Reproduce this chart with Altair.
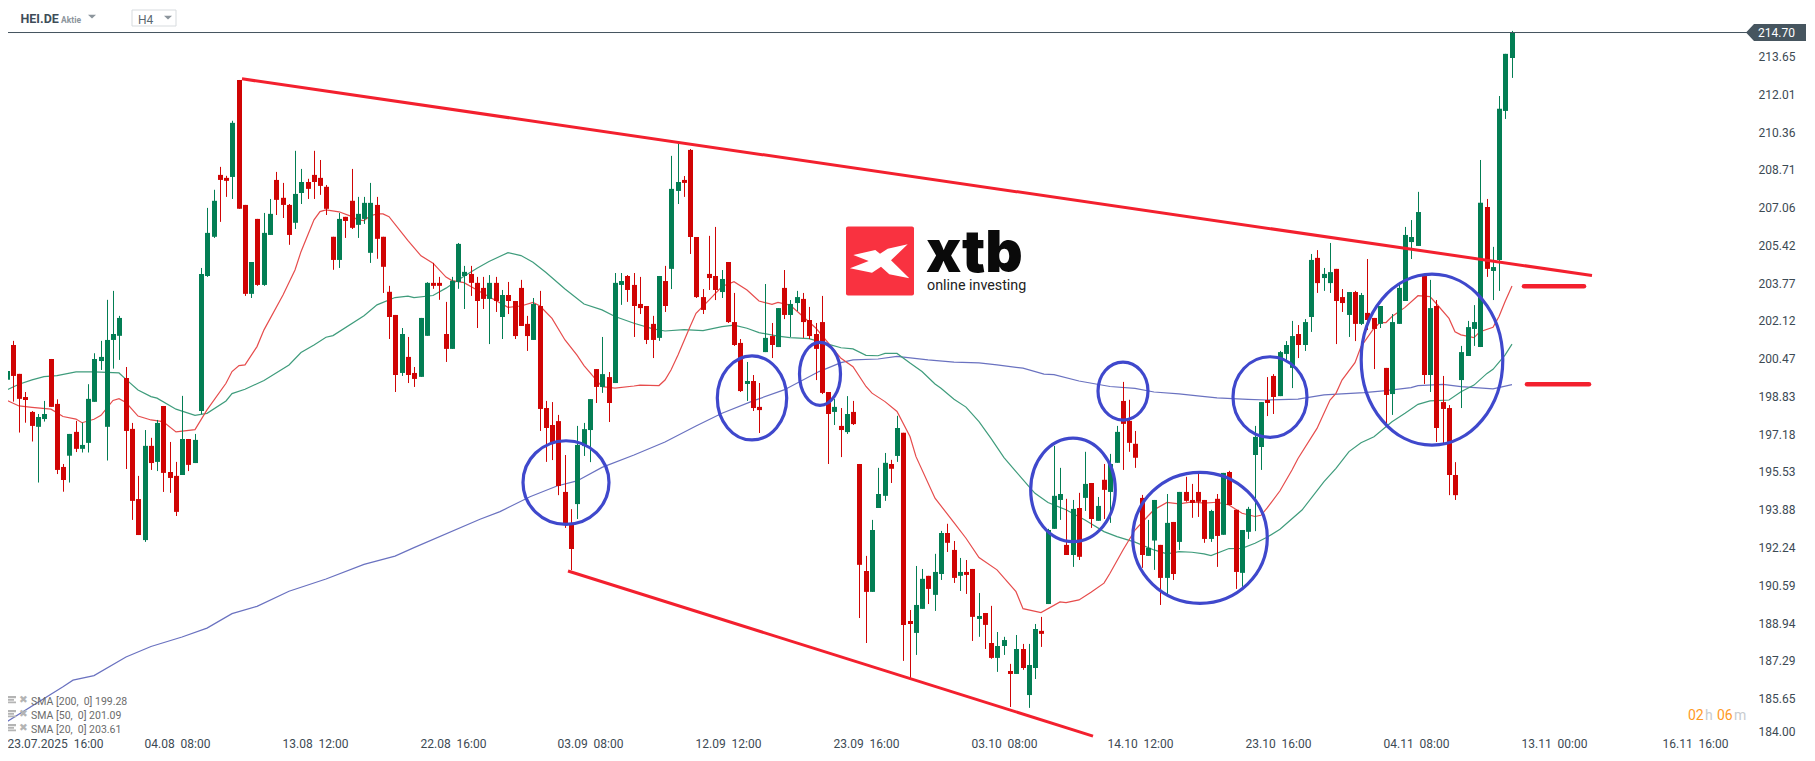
import altair as alt
import pandas as pd

candle_dirs = (
    "GRRRRGGRRR" "GRGGGGGGGR" "RRGRGRRRGR" "GGGGRRGRRG" "RGGRRRGGRR"
    "RRRGRRGGGR" "RRRGRRGGRR" "RGGGRRRGRG" "RRRRGRRRRR" "RGGGRGRGGR"
    "RRRRGRGGRR" "RRRRGRRRGR" "RGRGRGGRRR" "RRGRGRRRGG" "GRGRRGGRGG"
    "RRGRRGRRGG" "RGRGGRGGGR" "GRGRGRGGRR" "RRGGRGRGRR" "RRGRGRRGGG"
    "GRRGGGRGGR" "GGRRGRGRRG" "RGGGGGRGRR" "RRGGGGRGGGG"
)

highs = [
    200.10,201.25,199.81,199.02,198.19,198.06,198.63,200.46,198.70,195.88,
    197.19,197.76,197.68,199.36,200.71,201.25,203.04,203.43,202.34,200.11,
    197.67,195.36,197.36,197.02,197.80,198.41,196.84,195.97,198.85,196.97,
    197.19,204.43,207.05,207.84,208.84,208.45,210.85,212.63,207.18,204.69,
    206.57,206.83,207.44,208.62,208.14,207.22,209.54,208.75,208.32,209.54,
    209.14,208.05,205.79,206.83,206.66,208.75,207.53,207.53,208.14,207.53,
    205.79,203.65,202.38,201.81,201.42,200.11,202.25,203.81,204.65,204.04,
    202.95,204.04,205.52,204.52,204.52,204.04,204.04,204.12,204.04,203.47,
    203.82,202.99,203.91,202.34,203.12,203.43,198.63,198.58,198.02,196.27,
    193.91,197.54,197.67,198.71,200.02,201.42,199.89,204.21,204.21,204.12,
    204.21,204.04,202.77,202.34,204.08,204.52,209.32,209.84,208.44,209.62,
    205.78,203.51,205.83,206.22,204.34,204.69,203.34,201.33,200.33,199.76,
    199.41,203.73,202.03,202.68,204.34,203.03,203.43,203.34,202.73,202.03,
    203.21,199.02,198.71,198.32,198.84,198.63,195.88,191.87,193.44,195.71,
    196.36,196.06,197.98,197.24,189.51,191.43,191.30,191.00,191.96,192.96,
    193.27,192.52,191.78,191.69,191.30,190.25,189.38,189.69,188.55,188.34,
    187.16,188.42,188.03,188.03,188.90,189.21,193.05,196.67,195.71,194.36,
    194.31,194.62,196.41,195.05,194.44,195.88,196.32,197.54,199.46,198.68,
    197.32,194.53,193.44,194.31,192.35,194.57,193.35,194.66,195.32,195.01,
    195.45,194.31,193.88,194.57,195.49,195.58,193.88,193.00,194.01,197.54,
    198.58,199.67,199.80,200.81,201.24,202.12,201.94,202.20,205.04,205.21,
    204.43,205.52,204.39,203.51,203.38,203.43,203.34,204.82,202.25,202.77,
    200.07,202.42,203.82,206.22,206.52,207.75,204.12,203.91,203.03,199.72,
    198.45,195.96,201.03,202.12,202.81,209.14,207.44,205.35,211.93,213.77,214.77,
]
body_tops = [
    199.94,201.07,199.81,198.80,198.15,197.93,198.06,200.46,198.50,195.75,
    197.19,197.28,196.71,198.72,200.46,200.55,201.29,201.55,202.25,199.63,
    197.41,194.35,196.67,196.67,197.67,198.41,195.53,195.36,196.97,196.97,
    196.93,204.17,205.96,207.36,208.49,208.36,210.76,212.63,207.18,204.69,
    206.57,205.96,206.79,208.27,207.49,207.18,207.66,208.18,208.18,208.49,
    208.36,207.97,205.79,206.57,206.66,207.36,206.79,207.27,207.27,207.18,
    205.79,203.39,202.38,201.55,200.55,199.85,202.25,203.78,203.78,203.78,
    201.55,203.87,205.48,204.26,204.17,203.78,203.56,203.78,203.78,203.25,
    203.25,202.99,203.56,201.99,202.86,202.77,198.32,197.58,197.75,194.66,
    193.22,196.71,197.40,198.71,200.02,199.80,199.67,203.78,203.86,204.08,
    203.69,202.86,202.77,201.99,204.08,203.86,207.88,208.18,208.27,209.58,
    205.78,203.16,204.17,204.08,203.95,204.69,202.07,201.16,199.50,199.50,
    198.37,201.38,201.46,202.68,203.56,202.86,203.16,203.08,202.16,201.55,
    202.07,199.02,198.37,197.54,198.06,198.15,195.88,191.21,193.00,194.57,
    195.93,195.88,197.45,197.24,189.03,189.73,190.87,191.00,191.17,192.87,
    192.87,192.13,191.17,191.17,191.30,189.25,189.38,188.07,187.94,188.20,
    186.85,187.81,187.81,187.11,188.68,188.60,193.00,194.49,194.57,192.35,
    193.92,193.96,195.01,195.05,194.05,195.19,195.88,197.28,198.63,197.76,
    196.76,194.40,192.22,194.31,192.35,193.31,193.35,194.66,194.66,194.31,
    194.66,194.31,193.83,194.36,195.49,195.53,193.88,193.00,193.92,197.06,
    198.58,198.67,199.72,200.76,201.07,201.46,201.55,202.07,204.78,204.87,
    204.17,204.25,204.39,203.16,203.38,203.38,203.25,202.47,202.25,202.77,
    200.07,202.07,203.56,205.87,205.78,206.87,204.08,202.68,202.77,198.58,
    198.32,195.40,200.76,201.85,202.07,207.27,207.09,204.47,211.37,213.77,214.70,
]
body_bottoms = [
    199.55,199.72,198.72,198.67,197.54,197.50,197.84,198.37,195.62,195.18,
    196.24,196.54,196.54,196.80,198.59,200.37,197.50,201.29,201.47,197.32,
    194.27,192.78,192.56,195.92,195.97,195.49,195.27,193.79,195.40,195.84,
    195.92,198.19,204.08,205.79,208.27,208.23,208.40,207.01,203.30,203.30,
    203.69,203.69,205.87,207.40,207.18,205.87,206.40,207.70,207.88,208.18,
    208.01,207.01,204.78,204.78,206.48,206.18,206.31,206.57,205.09,205.70,
    204.48,202.29,199.76,199.85,199.76,199.59,199.68,201.47,203.65,203.65,
    200.90,200.90,203.82,204.08,203.78,202.99,203.08,203.08,202.99,202.29,
    202.99,201.46,201.90,201.46,201.29,198.28,197.45,196.78,194.92,193.26,
    192.17,194.13,196.66,197.36,199.24,199.24,198.54,199.41,203.69,203.47,
    202.77,202.68,201.29,201.29,201.38,202.77,204.39,207.79,208.14,205.78,
    203.16,202.60,203.99,203.47,203.38,202.07,201.07,199.06,199.37,198.32,
    198.23,200.76,201.07,200.98,202.38,202.38,202.90,202.07,201.46,200.90,
    198.98,198.06,198.15,197.36,197.27,197.62,191.48,190.30,190.30,193.96,
    194.49,195.67,196.23,188.86,188.90,188.51,189.56,190.43,190.17,191.08,
    192.44,190.91,191.00,191.04,189.21,189.12,188.86,187.42,187.42,187.94,
    186.72,186.72,186.98,185.80,186.98,188.47,189.77,193.05,194.31,191.91,
    191.91,191.83,194.40,193.48,193.40,194.75,194.66,195.93,197.63,196.80,
    196.15,191.91,191.87,192.54,190.91,190.91,191.08,192.48,194.27,194.18,
    194.23,192.61,192.61,192.74,192.79,194.09,191.17,191.13,192.92,196.27,
    196.62,198.54,198.80,198.84,200.68,200.07,201.07,201.07,202.29,203.77,
    203.99,203.77,202.99,202.90,202.38,201.99,201.99,202.16,201.77,201.99,
    198.89,198.93,201.99,202.99,205.56,205.39,199.76,199.76,197.45,198.28,
    195.40,194.52,199.54,200.59,201.77,200.98,204.39,204.30,204.78,211.28,213.59,
]
lows = [
    198.60,198.60,197.25,197.68,196.86,195.07,197.73,198.37,195.44,194.67,
    195.07,196.40,196.38,196.38,198.59,199.98,196.03,200.04,200.42,195.66,
    193.44,192.78,192.48,195.62,195.57,194.66,194.62,193.61,195.40,195.57,
    195.92,198.06,204.04,205.74,206.44,207.53,207.44,207.01,203.21,203.12,
    203.65,203.65,205.87,206.74,206.61,205.44,206.13,207.22,207.44,207.44,
    207.62,206.74,204.35,204.43,205.74,206.13,205.74,206.35,204.65,204.83,
    203.34,201.33,199.02,199.72,199.41,199.24,199.68,201.47,203.52,203.04,
    200.33,200.90,203.52,202.64,203.21,201.81,202.64,201.11,202.51,201.33,
    202.42,201.33,201.90,200.81,201.29,197.32,195.97,196.05,194.52,193.09,
    191.25,193.48,196.23,195.96,198.54,198.98,197.71,199.41,202.82,202.95,
    201.42,202.42,201.11,200.50,201.25,202.51,203.51,207.22,207.53,205.04,
    203.12,202.42,203.47,203.03,203.12,202.03,201.03,199.02,198.63,198.19,
    197.23,200.76,200.50,200.98,202.20,201.42,202.55,201.38,201.33,199.54,
    198.93,195.88,197.58,196.18,197.19,197.58,189.16,188.07,190.30,193.96,
    194.27,195.05,195.97,187.29,186.46,187.55,189.56,189.77,189.47,190.82,
    192.04,190.69,190.34,190.21,188.16,188.34,187.81,187.38,186.81,187.55,
    185.28,186.72,186.90,185.24,186.50,187.90,189.77,193.05,193.44,191.91,
    191.39,191.69,193.83,193.09,193.40,193.48,193.31,195.93,195.62,196.41,
    195.71,191.35,191.87,191.26,189.73,190.17,190.82,192.13,194.23,193.53,
    193.57,192.44,192.48,191.39,192.79,194.09,190.43,190.52,192.61,192.95,
    195.62,197.97,198.06,198.84,200.42,199.19,200.50,200.81,201.64,203.34,
    203.43,203.34,201.11,202.51,201.42,201.24,201.94,201.72,200.02,201.81,
    197.49,198.02,201.99,202.99,204.82,205.39,199.37,199.02,196.84,196.75,
    194.52,194.31,198.32,200.59,201.03,200.98,204.04,203.03,203.43,210.93,212.72,
]

sma20_idx = [0,2,4,7,9,11,12,14,15,17,18,19,21,23,25,27,30,32,35,36,37,38,40,41,44,46,47,49,50,51,53,55,56,57,58,59,60,61,64,66,68,70,71,73,75,
             80,82,84,85,87,89,91,92,95,97,100,101,104,105,106,107,109,110,112,114,116,118,120,122,123,125,127,129,131,133,135,137,
             138,140,142,144,145,148,151,153,155,158,161,162,165,168,169,171,173,175,176,178,180,182,183,185,187,189,191,193,195,197,199,200,201,
             203,205,206,209,211,212,213,215,216,218,219,220,221,223,225,227,228,230,231,232,234,235,237,238,239,240]
sma20_val = [198.65,198.41,198.35,198.27,197.95,197.84,197.68,197.83,198.00,198.65,198.73,198.56,197.97,197.80,197.73,197.28,197.38,198.24,199.40,199.91,200.17,200.20,201.00,201.73,203.25,204.34,205.14,206.53,206.89,206.96,206.88,206.67,206.53,206.50,206.70,206.79,206.79,206.67,205.62,204.96,204.64,204.03,203.88,203.79,203.47,
             202.71,202.77,202.93,202.77,202.23,201.29,200.63,200.17,199.25,199.19,199.28,199.32,199.30,199.54,199.98,200.63,201.87,202.45,203.03,203.62,203.83,203.47,202.99,202.84,202.93,202.81,202.31,201.80,201.17,200.49,200.12,199.26,
             198.97,198.60,198.17,197.08,196.20,194.39,193.32,192.64,191.80,191.26,190.31,189.57,189.40,189.86,189.83,189.95,190.28,190.68,191.11,192.13,193.00,193.61,193.88,194.20,194.14,194.23,194.17,194.21,194.09,193.73,193.59,193.64,193.95,
             194.71,195.62,196.12,197.43,198.67,198.96,199.54,200.30,201.00,201.80,202.05,202.05,202.31,202.71,203.22,203.18,202.89,202.23,201.65,201.51,201.39,201.65,201.84,202.31,202.96,203.64]

sma50_idx = [0,2,4,6,8,11,14,18,19,21,23,24,27,30,32,35,36,38,41,45,47,49,51,52,57,59,62,64,65,68,70,72,75,
             77,80,82,84,86,89,92,95,97,100,103,105,108,111,114,116,118,120,123,125,128,131,133,135,137,
             139,140,142,144,146,148,149,151,153,155,157,159,161,163,164,166,169,172,175,177,180,183,185,187,189,191,192,195,197,199,201,203,
             206.5,210,212,214,216,218,221,223,225,227,230,232,234,236,237,239,240]
sma50_val = [199.11,199.36,199.55,199.69,199.73,199.90,199.90,199.85,199.57,199.11,198.82,198.75,198.27,198.00,198.09,198.63,198.95,199.14,199.52,200.20,200.74,201.07,201.41,201.48,202.35,202.82,203.14,203.20,203.14,203.23,203.55,203.91,204.42,
             204.71,205.10,204.97,204.68,204.23,203.51,202.86,202.60,202.31,202.02,201.77,201.68,201.74,201.70,201.87,201.94,201.80,201.61,201.46,201.39,201.35,201.11,200.95,200.90,200.62,
             200.60,200.70,200.70,200.28,199.91,199.37,199.18,198.70,198.36,197.73,197.00,196.16,195.55,194.89,194.60,194.20,193.88,193.44,192.93,192.71,192.47,192.13,191.96,192.06,192.03,191.96,191.88,192.19,192.20,192.42,192.68,193.03,
             193.87,195.11,195.69,196.42,196.81,197.07,197.72,198.09,198.48,198.63,198.67,199.03,199.32,199.83,200.01,200.63,201.11]

sma200_idx = [0,9,10.6,14,19,23,28,32,36,40,45,51,57,62,65,75.5,78.7,83.5,87.8,90.9,95,100,105,110,114,119,124,129.5,133,135,139,142,147,151,155,158,162,165.4,167,171,176,180,183,187,190.3,193,198,201,206,210,216.5,220,224,225,229,232,237,240]
sma200_val = [184.64,186.16,186.45,186.65,187.46,187.92,188.33,188.72,189.35,189.67,190.33,190.86,191.50,191.86,192.23,193.47,193.80,194.45,194.92,195.14,195.73,196.27,196.84,197.54,198.09,198.63,199.11,199.91,200.30,200.42,200.46,200.57,200.42,200.32,200.29,200.20,200.06,199.80,199.78,199.50,199.26,199.18,199.02,198.94,198.84,198.76,198.70,198.67,198.71,198.89,198.99,199.08,199.21,199.30,199.35,199.25,199.16,199.34]

price_ticks = [213.65,212.01,210.36,208.71,207.06,205.42,203.77,202.12,200.47,198.83,197.18,195.53,193.88,192.24,190.59,188.94,187.29,185.65,184.2]
time_ticks = [7.72,27.18,49.2,71.2,93.05,115.06,137.06,159,180.8,202.8,224.8,246.8,269.3]
time_labels = ["23.07.2025\u00a0\u00a016:00","04.08\u00a0\u00a008:00","13.08\u00a0\u00a012:00","22.08\u00a0\u00a016:00","03.09\u00a0\u00a008:00","12.09\u00a0\u00a012:00","23.09\u00a0\u00a016:00","03.10\u00a0\u00a008:00","14.10\u00a0\u00a012:00","23.10\u00a0\u00a016:00","04.11\u00a0\u00a008:00","13.11\u00a0\u00a000:00","16.11\u00a0\u00a016:00"]

trend_upper_i, trend_upper_p = [37.5, 252.8], [212.68, 204.10]
trend_lower_i, trend_lower_p = [89.6, 173.2], [191.21, 184.01]
level_upper_i, level_upper_p = [242.0, 251.6], [203.63, 203.63]
level_lower_i, level_lower_p = [242.5, 252.3], [199.36, 199.36]

# circled zones: centre candle, centre price, radii in screen pixels
ellipse_i = [89.15,118.8,129.65,170.1,178.0,190.3,201.45,227.3]
ellipse_p = [195.07,198.76,199.81,194.75,199.06,192.66,198.80,200.43]
ellipse_rx = [43,34.7,20.5,42.3,25,67.3,37,70.8]
ellipse_ry = [41.8,42,31.5,51.7,29,65.5,40.3,85.5]

RED, GREEN = "#d00404", "#037e54"
TREND, CIRCLE = "#f3202e", "#3f48cc"
DARK = "#3c4a54"

x_scale = alt.Scale(domain=[0.22, 287.1], nice=False, zero=False, round=True, padding=0)
y_scale = alt.Scale(domain=[183.97, 215.77], nice=False, zero=False)

lookup = ",".join(f'"{t}":"{l}"' for t, l in zip(time_ticks, time_labels))
x_axis = alt.Axis(values=time_ticks, labelExpr="({" + lookup + "})[datum.value]", domain=False, ticks=False, grid=False,
                  labelFont="Roboto", labelFontSize=12, labelPadding=1, labelOverlap=False, labelFlush=False, labelAngle=0,
                  labelColor=DARK)
y_axis = alt.Axis(orient="right", values=price_ticks,
                  labelExpr="datum.value == 184.2 ? '184.00' : format(datum.value, '.2f')",
                  domain=False, ticks=False, grid=False, labelFont="Roboto", labelFontSize=12, labelColor=DARK,
                  labelPadding=-49, labelOverlap=False, labelFlush=False, labelAlign="left")

X = alt.X("i:Q", scale=x_scale, title=None, axis=x_axis)
Y = alt.Y("p:Q", scale=y_scale, title=None, axis=y_axis)


def series_line(idx, val, color, width=1.2, **kw):
    df = pd.DataFrame({"i": idx, "p": val})
    return alt.Chart(df).mark_line(color=color, strokeWidth=width, clip=False, **kw).encode(x=X, y=Y)


def text(txt, x, y, size, color, weight="normal", align="left", font="Roboto", **kw):
    return alt.Chart(alt.Data(values=[{"a": 1}])).mark_text(
        text=txt, fontSize=size, color=color, fontWeight=weight, align=align, baseline="middle", font=font, **kw
    ).encode(x=alt.value(x - 8), y=alt.value(y - 8))


def glyph(path, x, y, color, filled=True, width=1):
    style = {"fill": color, "strokeWidth": 0} if filled else {"stroke": color, "strokeWidth": width}
    return alt.Chart(alt.Data(values=[{"a": 1}])).mark_point(
        shape=path, size=4, filled=filled, opacity=1, **style
    ).encode(x=alt.value(x - 8), y=alt.value(y - 8))


candles = pd.DataFrame({"i": range(len(highs)), "hi": highs, "lo": lows, "top": body_tops, "bot": body_bottoms,
                        "d": list(candle_dirs)})
color = alt.Color("d:N", scale=alt.Scale(domain=["G", "R"], range=[GREEN, RED]), legend=None)

wicks = alt.Chart(candles).mark_rule(strokeWidth=1, xOffset=0.5).encode(
    x=X, y=alt.Y("hi:Q", scale=y_scale, title=None, axis=y_axis), y2="lo:Q", color=color)
bodies = alt.Chart(candles).mark_bar(size=5, xOffset=0.5).encode(
    x=X, y=alt.Y("top:Q", scale=y_scale, title=None, axis=y_axis), y2="bot:Q", color=color)

# logo sits behind everything
layers = [
    glyph("M-32,-34.5 L32,-34.5 A2,2 0 0,1 34,-32.5 L34,32.5 A2,2 0 0,1 32,34.5 L-32,34.5 A2,2 0 0,1 -34,32.5 L-34,-32.5 A2,2 0 0,1 -32,-34.5 Z",
          880, 261, "#f93240"),
    glyph("M-26.7,-6 L-4.7,-11 L0,-7.3 L7.7,-12.3 L27.7,-16.7 L11,-0.7 L29.3,17.3 L9.3,13.3 L1,5.7 L-8,11.7 L-30,7.3 L-11.3,0 Z",
          880, 261, "#ffffff"),
    text("xtb", 926, 254.5, 58, "#0a0a0a", 900, "left", "Inter"),
    text("online investing", 927, 285.5, 14.3, "#222222"),
]

layers += [
    series_line(sma200_idx, sma200_val, "#6a72c0"),
    series_line(sma50_idx, sma50_val, "#3f9c7c"),
    series_line(sma20_idx, sma20_val, "#e64c4c"),
    wicks, bodies,
]

# current price line and tag
last_price = 214.70
layers += [
    alt.Chart(alt.Data(values=[{"p": last_price}])).mark_rule(color="#44535e", strokeWidth=1).encode(
        y=Y, x=alt.value(-8), x2=alt.value(1740)),
    glyph("M-30,0 L-22,-8.5 L30,-8.5 L30,8.5 L-22,8.5 Z", 1776, 32.5, "#46555f"),
    text("214.70", 1776.5, 33, 12, "#ffffff", "normal", "center"),
]

# drawn trend lines
layers += [
    series_line(trend_upper_i, trend_upper_p, TREND, 3),
    series_line(trend_lower_i, trend_lower_p, TREND, 3),
    series_line(level_upper_i, level_upper_p, TREND, 4.5, strokeCap="round"),
    series_line(level_lower_i, level_lower_p, TREND, 4.5, strokeCap="round"),
]

# circled zones
for ci, cp, rx, ry in zip(ellipse_i, ellipse_p, ellipse_rx, ellipse_ry):
    path = f"M{-rx},0 A{rx},{ry} 0 1,1 {rx},0 A{rx},{ry} 0 1,1 {-rx},0 Z"
    layers.append(
        alt.Chart(pd.DataFrame({"i": [ci], "p": [cp]})).mark_point(
            shape=path, size=4, filled=False, stroke=CIRCLE, strokeWidth=3.2, opacity=1, clip=False
        ).encode(x=X, y=Y)
    )

# header
layers += [
    text("HEI.DE", 20.5, 18.5, 12.5, "#3e4d59", "bold"),
    text("Aktie", 61, 19.5, 8.5, "#8c959c", "bold"),
    glyph("M-4,-1.7 L4,-1.7 L0,2 Z", 92, 16.5, "#8c959c"),
    glyph("M-22,-8 L22,-8 L22,8 L-22,8 Z", 154, 18, "#d7dbde", filled=False, width=1),
    text("H4", 138, 20, 12, "#5a6770"),
    glyph("M-4,-1.7 L4,-1.7 L0,2 Z", 168, 17.5, "#8c959c"),
]

# indicator legend
legend_rows = [("SMA [200,\u00a0\u00a00] 199.28", 701.5), ("SMA [50,\u00a0\u00a00] 201.09", 715.5), ("SMA [20,\u00a0\u00a00] 203.61", 729.5)]
for txt, y in legend_rows:
    layers += [
        glyph("M-5,-3.5 L5,-3.5 L5,-1.2 L-5,-1.2 Z M-5,-0.5 L3,-0.5 L3,1.2 L-5,1.2 Z M-5,2 L5,2 L5,3.8 L-5,3.8 Z", 11, y - 2, "#b4b4b4"),
        text("✖", 23.5, y - 2, 10.5, "#b4b4b4", font="DejaVu Sans", align="center"),
        text(txt, 31, y, 10.5, "#6b6b6b"),
    ]

# countdown
layers += [
    text("02", 1688, 716, 14, "#ff9a1f"),
    text("h", 1705, 716, 14, "#c8cccf"),
    text("06", 1717, 716, 14, "#ff9a1f"),
    text("m", 1734, 716, 14, "#c8cccf"),
]

chart = (
    alt.layer(*layers)
    .properties(width=1799, height=729, autosize=alt.AutoSizeParams(type="none"),
                padding={"left": 0, "top": 0, "right": 0, "bottom": 16}, background="#ffffff")
    .configure_view(strokeWidth=0)
)

chart.save("out.html", embed_options={"renderer": "svg", "actions": False})
